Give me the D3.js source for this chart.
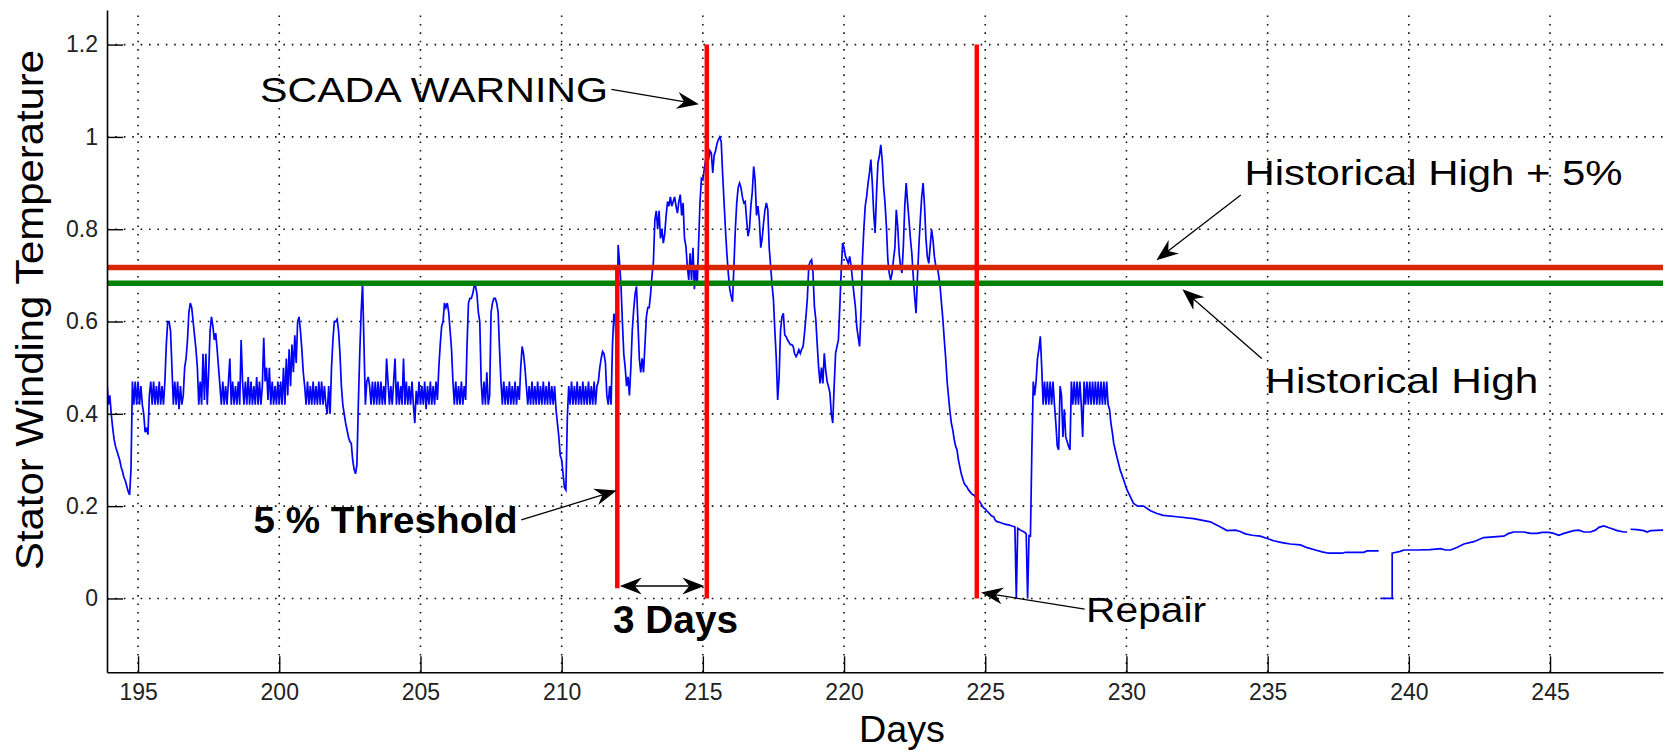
<!DOCTYPE html>
<html>
<head>
<meta charset="utf-8">
<script src="https://cdn.jsdelivr.net/npm/d3@7"></script>
<style>
  html, body { margin: 0; padding: 0; background: #fff; }
  svg { display: block; font-family: "Liberation Sans", Arial, sans-serif; }
</style>
</head>
<body>
<svg id="chart" width="1669" height="752"></svg>
<script>
// ---------------- data ----------------
const xTicks = [195, 200, 205, 210, 215, 220, 225, 230, 235, 240, 245];
const yTicks = [0, 0.2, 0.4, 0.6, 0.8, 1, 1.2];
const yTickLabels = ["0", "0.2", "0.4", "0.6", "0.8", "1", "1.2"];

// stator winding temperature, sampled every 0.05 day from day 193.90
const sampleStart = 193.9;
const sampleStep = 0.05;

// days 193.90 - 211.95 : normal operation
const tempNormal = [
  .47, .42,
  .44, .40, .37, .345, .33, .32, .31, .30, .285, .275, .262, .255, .243, .232, .224, .28, .47, .42, .47, .42,
  .47, .42, .46, .42, .40, .36, .37, .355, .44, .47, .42, .47, .42, .46, .42, .47, .42, .46, .42, .47,
  .55, .60, .60, .58, .50, .42, .47, .42, .47, .41, .46, .42, .44, .50, .52, .56, .62, .64, .63, .60,
  .57, .54, .50, .42, .47, .42, .53, .43, .53, .42, .49, .58, .61, .59, .56, .575, .54, .50, .46, .42,
  .47, .42, .46, .42, .47, .52, .42, .47, .42, .46, .42, .47, .42, .56, .47, .42, .47, .42, .48, .42,
  .47, .42, .46, .42, .48, .42, .47, .42, .46, .565, .47, .50, .43, .50, .42, .47, .42, .46, .42, .47,
  .42, .47, .42, .50, .42, .52, .44, .54, .46, .55, .49, .57, .51, .60, .61, .58, .54, .49, .46, .42,
  .47, .42, .46, .42, .47, .42, .46, .42, .47, .42, .47, .42, .46, .42, .40, .46, .40, .50, .56, .60,
  .60, .605, .58, .53, .46, .42, .40, .38, .365, .35, .34, .336, .30, .28, .27, .29, .42, .53, .62, .683,
  .55, .42, .47, .48, .46, .42, .47, .42, .47, .42, .47, .42, .47, .42, .46, .42, .52, .47, .42, .46,
  .42, .47, .52, .42, .47, .42, .46, .42, .52, .42, .47, .42, .46, .42, .47, .42, .38, .45, .42, .47,
  .42, .46, .42, .47, .41, .46, .42, .47, .42, .46, .42, .47, .43, .50, .55, .59, .60, .64, .63, .64,
  .62, .58, .54, .47, .42, .47, .42, .46, .42, .47, .42, .46, .43, .55, .64, .65, .65, .66, .676, .676,
  .66, .62, .60, .47, .42, .47, .42, .49, .42, .44, .62, .64, .65, .65, .64, .62, .54, .47, .42, .47,
  .42, .46, .42, .47, .42, .46, .42, .47, .42, .46, .43, .50, .546, .53, .50, .46, .42, .46, .42, .47,
  .42, .46, .42, .47, .42, .46, .42, .47, .42, .46, .42, .47, .42, .46, .42, .46, .41, .38, .35, .31,
  .30, .27, .24, .235, .39, .46, .42, .47, .42, .46, .42, .47, .42, .46, .42, .47, .42, .46, .42, .47,
  .42, .46, .42, .47, .42, .46, .47, .50, .52, .535, .53, .51, .44, .42, .46, .42, .55, .617, .60, .51
];

// days 212.00 - 223.95 : overheating
const tempFault = [
  .766, .727, .68, .60, .53, .50, .46, .48, .44, .50, .58, .625, .66, .676, .60, .52, .49, .52, .49, .55,
  .61, .63, .63, .66, .70, .73, .82, .84, .80, .84, .78, .80, .77, .79, .83, .86, .85, .87, .85, .86,
  .87, .85, .835, .86, .875, .83, .857, .78, .763, .72, .69, .748, .69, .76, .67, .72, .68, .77, .86, .91,
  .907, .93, .95, .96, .95, .97, .965, .922, .96, .97, .985, .994, 1.0, .99, .92, .86, .80, .748, .705, .672,
  .655, .643, .72, .80, .857, .89, .90, .89, .87, .857, .86, .82, .785, .80, .85, .88, .936, .907, .83, .85,
  .82, .76, .78, .814, .842, .857, .842, .76, .72, .68, .647, .58, .52, .43, .48, .58, .61, .618, .571, .567,
  .56, .555, .55, .55, .546, .53, .524, .53, .539, .531, .54, .546, .575, .61, .65, .72, .73, .734, .705, .633,
  .604, .55, .50, .466, .50, .466, .531, .495, .47, .459, .445, .40, .38, .46, .531, .546, .56, .633, .712, .77,
  .76, .741, .734, .726, .741, .72, .69, .66, .633, .589, .567, .546, .62, .734, .80, .85, .871, .90, .922, .951,
  .90, .835, .792, .878, .944, .958, .983, .95, .893, .857, .806, .734, .705, .69, .705, .734, .76, .842, .806, .748,
  .72, .705, .763, .85, .90, .857, .82, .78, .748, .698, .654, .618, .698, .763, .821, .871, .90, .85, .78, .74,
  .726, .763, .799, .777, .74, .72, .72, .70, .676, .64, .604, .56, .52, .47, .437, .405, .38, .365, .345, .33
];

// days 224.00 - 229.50 : shutdown, repair and restart
const tempRepair = [
  .322, .30, .285, .27, .26, .25, .245, .242, .236, .232, .228, .225, .224, .22, .217, .213, .21, .205, .20, .196,
  .194, .19, .187, .184, .18, .178, .177, .17, .167, .166, .165, .164, .163, .162, .161, .16, .16, .159, .158, .157,
  .156, .155, 0, .152, .15, .148, .146, .145, .143, .14, 0, .136, .135, .32, .47, .44, .47, .52, .54, .568,
  .50, .42, .47, .42, .47, .42, .47, .42, .47, .42, .38, .33, .322, .46, .44, .35, .41, .35, .34, .33,
  .322, .47, .42, .47, .42, .47, .42, .47, .42, .35, .47, .42, .47, .42, .47, .42, .47, .42, .47, .42,
  .47, .42, .47, .42, .47, .42, .47, .42, .41, .38, .36
];

// days 229.55 - 249 : idle cool-down (null = missing record)
const tailDays = [229.55, 229.66, 229.78, 229.90, 230.02, 230.14, 230.25, 230.40, 230.61, 230.85, 231.08, 231.30,
  231.79, 232.38, 232.97, 233.33, 233.56, 233.86, 234.03, 234.21, 234.45, 234.74, 234.98, 235.21, 235.51, 235.80,
  236.16, 236.40, 236.69, 236.93, 237.16, 237.64, 237.75, 238.40, 238.52, 238.93, 238.96, 238.99, 239.41, 239.41,
  239.47, 239.70, 239.82, 240.29, 240.76, 241.12, 241.30, 241.48, 241.72, 241.95, 242.30, 242.65, 243.12, 243.36,
  243.54, 243.72, 244.07, 244.31, 244.54, 244.72, 244.96, 245.13, 245.31, 245.49, 245.84, 246.02, 246.20, 246.43,
  246.61, 246.73, 246.90, 247.14, 247.38, 247.61, 247.73, 247.79, 247.85, 248.08, 248.32, 248.44, 248.56, 248.97, 249.0];
const tailTemps = [.336, .307, .278, .257, .235, .22, .206, .20, .20, .19, .184, .18,
  .177, .173, .166, .155, .147, .148, .145, .14, .137, .135, .13, .125, .121, .118,
  .116, .11, .105, .101, .098, .098, .10, .10, .103, .103, null, 0, 0, .098,
  .099, .102, .105, .105, .106, .108, .105, .105, .111, .118, .123, .132, .134, .135,
  .141, .144, .144, .141, .141, .143, .143, .141, .137, .141, .147, .148, .144, .144,
  .148, .154, .157, .152, .147, .144, .144, null, .150, .149, .147, .144, .147, .148, .148];

// reference levels and event days
const historicalHigh = 0.683;
const historicalHighPlus5 = 0.717;
const thresholdDay = 211.97;
const warningDay = 215.14;
const repairDay = 224.7;

// ---------------- layout ----------------
const W = 1669, H = 752;
const margin = { left: 107, top: 10, right: 6, bottom: 79.7 };
const plotW = W - margin.left - margin.right;
const plotH = H - margin.top - margin.bottom;

const x = d3.scaleLinear().domain([193.9, 249.0]).range([0, plotW]);
const y = d3.scaleLinear().domain([-0.16, 1.275]).range([plotH, 0]);

const svg = d3.select("#chart");
const g = svg.append("g").attr("transform", `translate(${margin.left},${margin.top})`);

svg.append("defs").append("clipPath").attr("id", "plotClip")
  .append("rect").attr("x", 0).attr("y", 0).attr("width", plotW).attr("height", plotH);

// dotted grid
const gridStyle = sel => sel.attr("stroke", "#111").attr("stroke-width", 1.6)
  .attr("stroke-dasharray", "1.6 6.8").attr("fill", "none");
g.append("g").selectAll("line").data(xTicks).join("line")
  .attr("x1", d => x(d)).attr("x2", d => x(d))
  .attr("y1", plotH).attr("y2", 0).call(gridStyle);
g.append("g").selectAll("line").data(yTicks).join("line")
  .attr("x1", 0).attr("x2", plotW)
  .attr("y1", d => y(d)).attr("y2", d => y(d)).call(gridStyle);

// temperature series
const sampled = tempNormal.concat(tempFault, tempRepair)
  .map((v, i) => ({ day: sampleStart + i * sampleStep, temp: v }));
const tail = tailDays.map((d, i) => ({ day: d, temp: tailTemps[i] }));
const series = sampled.concat(tail);

const line = d3.line()
  .defined(d => d.temp !== null)
  .x(d => x(d.day)).y(d => y(d.temp));

const plot = g.append("g").attr("clip-path", "url(#plotClip)");
plot.append("path").datum(series)
  .attr("d", line)
  .attr("fill", "none")
  .attr("stroke", "#0000ff")
  .attr("stroke-width", 1.7)
  .attr("stroke-linejoin", "miter");

// historical high levels
const levels = [
  { value: historicalHighPlus5, color: "#d92800" },
  { value: historicalHigh, color: "#008000" }
];
plot.append("g").selectAll("line").data(levels).join("line")
  .attr("x1", 0).attr("x2", plotW)
  .attr("y1", d => y(d.value)).attr("y2", d => y(d.value))
  .attr("stroke", d => d.color).attr("stroke-width", 5.5);

// event markers
const markers = [
  { day: thresholdDay, from: 0.022, to: historicalHighPlus5 },
  { day: warningDay, from: 0, to: 1.2 },
  { day: repairDay, from: 0, to: 1.2 }
];
plot.append("g").selectAll("line").data(markers).join("line")
  .attr("x1", d => x(d.day)).attr("x2", d => x(d.day))
  .attr("y1", d => y(d.from)).attr("y2", d => y(d.to))
  .attr("stroke", "#ff0000").attr("stroke-width", 4.5);

// axes
const yAxis = d3.axisLeft(y).tickValues(yTicks)
  .tickFormat((d, i) => yTickLabels[i])
  .tickSizeInner(-16).tickSizeOuter(0).tickPadding(9);
const xAxis = d3.axisBottom(x).tickValues(xTicks)
  .tickFormat(d3.format("d"))
  .tickSizeInner(-16).tickSizeOuter(0).tickPadding(11);

const styleAxis = sel => {
  sel.select(".domain").attr("stroke", "#000").attr("stroke-width", 1.6);
  sel.selectAll(".tick line").attr("stroke", "#000").attr("stroke-width", 1.4);
  sel.selectAll(".tick text").attr("fill", "#222")
    .style("font-family", "'Liberation Sans', Arial, sans-serif").style("font-size", "23px");
};
g.append("g").call(yAxis).call(styleAxis);
g.append("g").attr("transform", `translate(0,${plotH})`).call(xAxis).call(styleAxis);

// axis titles
svg.append("text")
  .attr("x", margin.left + x(222.05)).attr("y", 741.5)
  .attr("text-anchor", "middle")
  .attr("font-size", 36).attr("fill", "#000")
  .attr("textLength", 86).attr("lengthAdjust", "spacingAndGlyphs")
  .text("Days");
svg.append("text")
  .attr("transform", `translate(43,${margin.top + y(0.625)}) rotate(-90)`)
  .attr("text-anchor", "middle")
  .attr("font-size", 38).attr("fill", "#000")
  .attr("textLength", 520).attr("lengthAdjust", "spacingAndGlyphs")
  .text("Stator Winding Temperature");

// annotations
const notes = [
  { text: "SCADA WARNING", day: 199.32, temp: 1.076, size: 35, weight: "normal", len: 348 },
  { text: "5 % Threshold", day: 199.09, temp: 0.141, size: 37, weight: "bold", len: 264 },
  { text: "3 Days", day: 211.82, temp: -0.075, size: 38, weight: "bold", len: 125 },
  { text: "Repair", day: 228.57, temp: -0.05, size: 35, weight: "normal", len: 120 },
  { text: "Historical High + 5%", day: 234.18, temp: 0.896, size: 35, weight: "normal", len: 378 },
  { text: "Historical High", day: 234.92, temp: 0.446, size: 35, weight: "normal", len: 273 }
];
g.append("g").selectAll("text").data(notes).join("text")
  .attr("x", d => x(d.day)).attr("y", d => y(d.temp))
  .attr("font-size", d => d.size).attr("font-weight", d => d.weight)
  .attr("fill", "#000")
  .attr("textLength", d => d.len).attr("lengthAdjust", "spacingAndGlyphs")
  .text(d => d.text);

const arrows = [
  { from: [211.76, 1.103], to: [214.86, 1.071] },
  { from: [208.57, 0.170], to: [211.95, 0.234] },
  { from: [228.52, -0.023], to: [224.85, 0.013] },
  { from: [234.05, 0.874], to: [231.06, 0.733] },
  { from: [234.79, 0.52], to: [231.98, 0.67] }
];
const spanArrow = { y: 0.027, from: thresholdDay, to: warningDay };

const head = "M0,0 L-22,-8.5 L-15,0 L-22,8.5 Z";
const arrowLayer = g.append("g");
function drawArrow(x0, y0, x1, y1) {
  const ang = Math.atan2(y1 - y0, x1 - x0);
  arrowLayer.append("line")
    .attr("x1", x0).attr("y1", y0)
    .attr("x2", x1 - 14 * Math.cos(ang)).attr("y2", y1 - 14 * Math.sin(ang))
    .attr("stroke", "#000").attr("stroke-width", 1.3);
  arrowLayer.append("path").attr("d", head)
    .attr("transform", `translate(${x1},${y1}) rotate(${ang * 180 / Math.PI})`)
    .attr("fill", "#000");
}
arrows.forEach(a => drawArrow(x(a.from[0]), y(a.from[1]), x(a.to[0]), y(a.to[1])));

// two-headed span between threshold and warning
const sx0 = x(spanArrow.from) + 2.5, sx1 = x(spanArrow.to) - 2.5, sy = y(spanArrow.y);
arrowLayer.append("line")
  .attr("x1", sx0 + 14).attr("x2", sx1 - 14).attr("y1", sy).attr("y2", sy)
  .attr("stroke", "#000").attr("stroke-width", 1.3);
arrowLayer.append("path").attr("d", head)
  .attr("transform", `translate(${sx1},${sy})`).attr("fill", "#000");
arrowLayer.append("path").attr("d", head)
  .attr("transform", `translate(${sx0},${sy}) rotate(180)`).attr("fill", "#000");
</script>
</body>
</html>
